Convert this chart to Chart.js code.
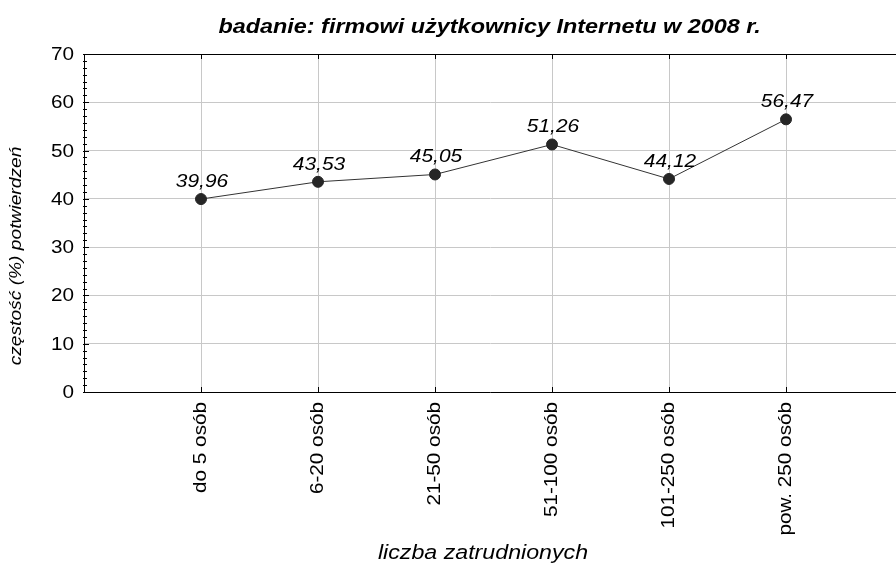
<!DOCTYPE html>
<html>
<head>
<meta charset="utf-8">
<script src="https://cdn.jsdelivr.net/npm/chart.js@4"></script>
<style>
  html, body { margin: 0; padding: 0; background: #fff; overflow: hidden; }
  #wrap { width: 896px; height: 564px; position: relative; }
</style>
</head>
<body>
<div id="wrap"><canvas id="chart" width="896" height="564"></canvas></div>
<script>
// dane z wykresu
var categories = ['do 5 osób', '6-20 osób', '21-50 osób', '51-100 osób', '101-250 osób', 'pow. 250 osób'];
var values = [39.96, 43.53, 45.05, 51.26, 44.12, 56.47];
var yTicks = [0, 10, 20, 30, 40, 50, 60, 70];

var titleText = 'badanie: firmowi użytkownicy Internetu w 2008 r.';
var xTitle = 'liczba zatrudnionych';
var yTitle = 'częstość (%) potwierdzeń';

var FONT = '"Liberation Sans", Arial, sans-serif';

function fmt(v) {
    return v.toFixed(2).replace('.', ',');
}

// tekst rozciagniety poziomo (oryginal ma szersze litery niz Arial)
function stretchText(ctx, text, x, y, font, align, baseline, angle, sx) {
    ctx.save();
    ctx.translate(x, y);
    if (angle) ctx.rotate(angle);
    ctx.scale(sx, 1);
    ctx.font = font;
    ctx.fillStyle = '#000';
    ctx.textAlign = align;
    ctx.textBaseline = baseline;
    ctx.fillText(text, 0, 0);
    ctx.restore();
}

var framePlugin = {
    id: 'frame',
    beforeDatasetsDraw: function (chart) {
        var ctx = chart.ctx, a = chart.chartArea;
        var xs = chart.scales.x, ys = chart.scales.y;
        ctx.save();
        ctx.strokeStyle = '#000';
        ctx.lineWidth = 1;
        ctx.beginPath();
        ctx.moveTo(a.left, a.top + 0.5);
        ctx.lineTo(a.right, a.top + 0.5);
        // znaczniki kategorii (do wewnatrz)
        categories.forEach(function (c, i) {
            var px = Math.round(xs.getPixelForValue(i)) + 0.5;
            ctx.moveTo(px, a.bottom);
            ctx.lineTo(px, a.bottom - 5);
            ctx.moveTo(px, a.top);
            ctx.lineTo(px, a.top + 5);
        });
        // drobne znaczniki na osi Y
        for (var k = 0; k < 7; k++) {
            for (var m = 1; m < 7; m++) {
                var v = k * 10 + m * 10 / 7;
                var py = Math.round(ys.getPixelForValue(v)) + 0.5;
                ctx.moveTo(a.left - 1, py);
                ctx.lineTo(a.left + 3, py);
            }
        }
        yTicks.forEach(function (t) {
            var py = Math.round(ys.getPixelForValue(t)) + 0.5;
            ctx.moveTo(a.left - 1, py);
            ctx.lineTo(a.left + 5, py);
        });
        ctx.stroke();
        ctx.restore();
    },
    afterDraw: function (chart) {
        var ctx = chart.ctx, a = chart.chartArea;
        var xs = chart.scales.x, ys = chart.scales.y;

        yTicks.forEach(function (t) {
            stretchText(ctx, String(t), a.left - 10, ys.getPixelForValue(t) + 1,
                '18px ' + FONT, 'right', 'middle', 0, 1.15);
        });

        categories.forEach(function (c, i) {
            stretchText(ctx, c, xs.getPixelForValue(i), a.bottom + 10,
                '18px ' + FONT, 'right', 'middle', -Math.PI / 2, 1.15);
        });

        var meta = chart.getDatasetMeta(0);
        meta.data.forEach(function (pt, i) {
            stretchText(ctx, fmt(values[i]), pt.x + 1, pt.y - 12,
                'italic 19px ' + FONT, 'center', 'alphabetic', 0, 1.1);
        });

        var cx = xs.getPixelForValue(2.5);
        stretchText(ctx, titleText, cx - 4, 33,
            'bold italic 19.5px ' + FONT, 'center', 'alphabetic', 0, 1.2);
        stretchText(ctx, xTitle, 483, 559,
            'italic 19.5px ' + FONT, 'center', 'alphabetic', 0, 1.19);
        stretchText(ctx, yTitle, 17, 256,
            'italic 16px ' + FONT, 'center', 'middle', -Math.PI / 2, 1.2);
    }
};

var points = values.map(function (v, i) { return { x: i, y: v }; });

new Chart(document.getElementById('chart'), {
    type: 'line',
    data: {
        datasets: [{
            data: points,
            borderColor: '#333333',
            borderWidth: 1,
            pointRadius: 5.5,
            pointBackgroundColor: '#262626',
            pointBorderColor: '#262626',
            pointBorderWidth: 1,
            tension: 0,
            clip: false
        }]
    },
    options: {
        responsive: false,
        maintainAspectRatio: false,
        devicePixelRatio: 1,
        animation: false,
        layout: { autoPadding: false, padding: { top: 54, left: 0, right: 0, bottom: 0 } },
        plugins: { legend: { display: false }, tooltip: { enabled: false } },
        scales: {
            x: {
                type: 'linear',
                min: -1,
                max: 5.94,
                ticks: { stepSize: 1, display: false },
                grid: { color: '#c8c8c8', drawTicks: false, lineWidth: 1 },
                border: { color: '#000', width: 1 },
                afterFit: function (s) { s.height = 172; }
            },
            y: {
                min: 0,
                max: 70,
                ticks: { stepSize: 10, display: false },
                grid: { color: '#c8c8c8', drawTicks: false, lineWidth: 1 },
                border: { color: '#000', width: 1 },
                afterFit: function (s) { s.width = 84; }
            }
        }
    },
    plugins: [framePlugin]
});
</script>
</body>
</html>
